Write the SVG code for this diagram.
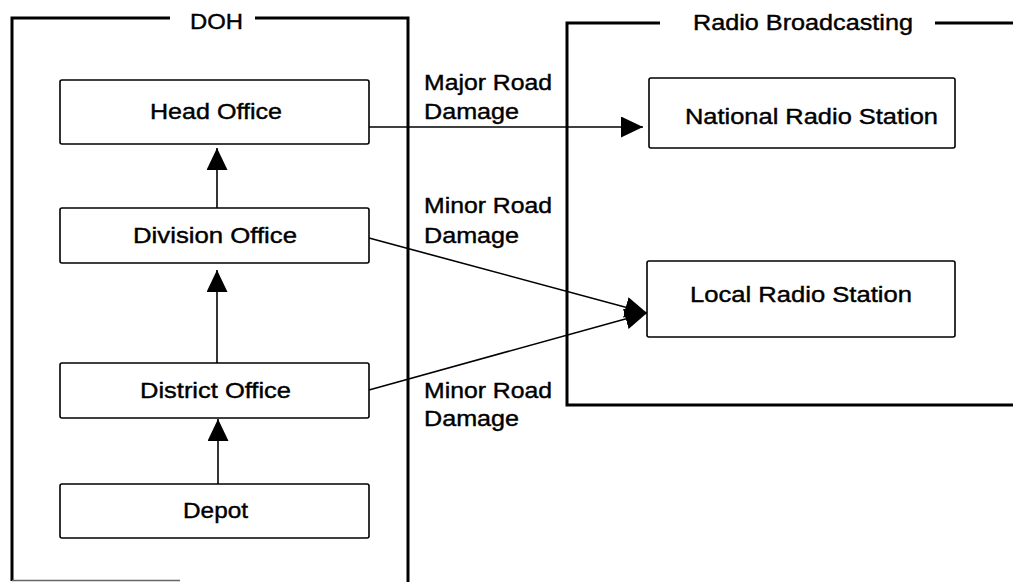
<svg xmlns="http://www.w3.org/2000/svg" width="1013" height="582" viewBox="0 0 1013 582">
<defs>
<style>
.frame{fill:none;stroke:#000;stroke-width:3}
.box{fill:#fff;stroke:#000;stroke-width:1.6}
.conn{fill:none;stroke:#000;stroke-width:1.6}
text{font-family:"Liberation Sans",Arial,sans-serif;font-size:22px;fill:#000;stroke:#000;stroke-width:0.4}
</style>
<marker id="arr" markerUnits="userSpaceOnUse" markerWidth="23" markerHeight="21" refX="22" refY="10.5" orient="auto" viewBox="0 0 23 21">
<path d="M0,0 L22,10.5 L0,21 Z" fill="#000"/>
</marker>
</defs>
<rect width="1013" height="582" fill="#fff"/>

<g id="frame-doh">
<path class="frame" d="M170,18 H12 V581 M255,18 H408 V582"/>
<line x1="12" y1="580.5" x2="180" y2="580.5" stroke="#666" stroke-width="1.5"/>
<text x="190" y="29" textLength="53" lengthAdjust="spacingAndGlyphs">DOH</text>
</g>

<g id="frame-radio">
<path class="frame" d="M660,23 H567 V405 H1013 M935,23 H1013"/>
<text x="693" y="30" textLength="220" lengthAdjust="spacingAndGlyphs">Radio Broadcasting</text>
</g>

<g id="connectors">
<line class="conn" x1="218" y1="484" x2="218" y2="419" marker-end="url(#arr)"/>
<line class="conn" x1="217" y1="363" x2="217" y2="270" marker-end="url(#arr)"/>
<line class="conn" x1="217" y1="208" x2="217" y2="148" marker-end="url(#arr)"/>
<line class="conn" x1="369" y1="127" x2="643" y2="127" marker-end="url(#arr)"/>
<line class="conn" x1="369" y1="238" x2="647" y2="313" marker-end="url(#arr)"/>
<line class="conn" x1="369" y1="390" x2="647" y2="313" marker-end="url(#arr)"/>
<text x="424" y="90" textLength="128" lengthAdjust="spacingAndGlyphs">Major Road</text>
<text x="424" y="119" textLength="95" lengthAdjust="spacingAndGlyphs">Damage</text>
<text x="424" y="213" textLength="128" lengthAdjust="spacingAndGlyphs">Minor Road</text>
<text x="424" y="243" textLength="95" lengthAdjust="spacingAndGlyphs">Damage</text>
<text x="424" y="398" textLength="128" lengthAdjust="spacingAndGlyphs">Minor Road</text>
<text x="424" y="426" textLength="95" lengthAdjust="spacingAndGlyphs">Damage</text>
</g>

<g id="head-office">
<rect class="box" x="60" y="80" width="309" height="64" rx="2"/>
<text x="150" y="119" textLength="132" lengthAdjust="spacingAndGlyphs">Head Office</text>
</g>
<g id="division-office">
<rect class="box" x="60" y="208" width="309" height="55" rx="2"/>
<text x="133" y="243" textLength="164" lengthAdjust="spacingAndGlyphs">Division Office</text>
</g>
<g id="district-office">
<rect class="box" x="60" y="363" width="309" height="55" rx="2"/>
<text x="140" y="398" textLength="151" lengthAdjust="spacingAndGlyphs">District Office</text>
</g>
<g id="depot">
<rect class="box" x="60" y="484" width="309" height="54" rx="2"/>
<text x="183" y="518" textLength="65" lengthAdjust="spacingAndGlyphs">Depot</text>
</g>
<g id="national-radio">
<rect class="box" x="649" y="78" width="306" height="70" rx="2"/>
<text x="685" y="124" textLength="253" lengthAdjust="spacingAndGlyphs">National Radio Station</text>
</g>
<g id="local-radio">
<rect class="box" x="647" y="261" width="308" height="76" rx="2"/>
<text x="690" y="302" textLength="222" lengthAdjust="spacingAndGlyphs">Local Radio Station</text>
</g>
</svg>
